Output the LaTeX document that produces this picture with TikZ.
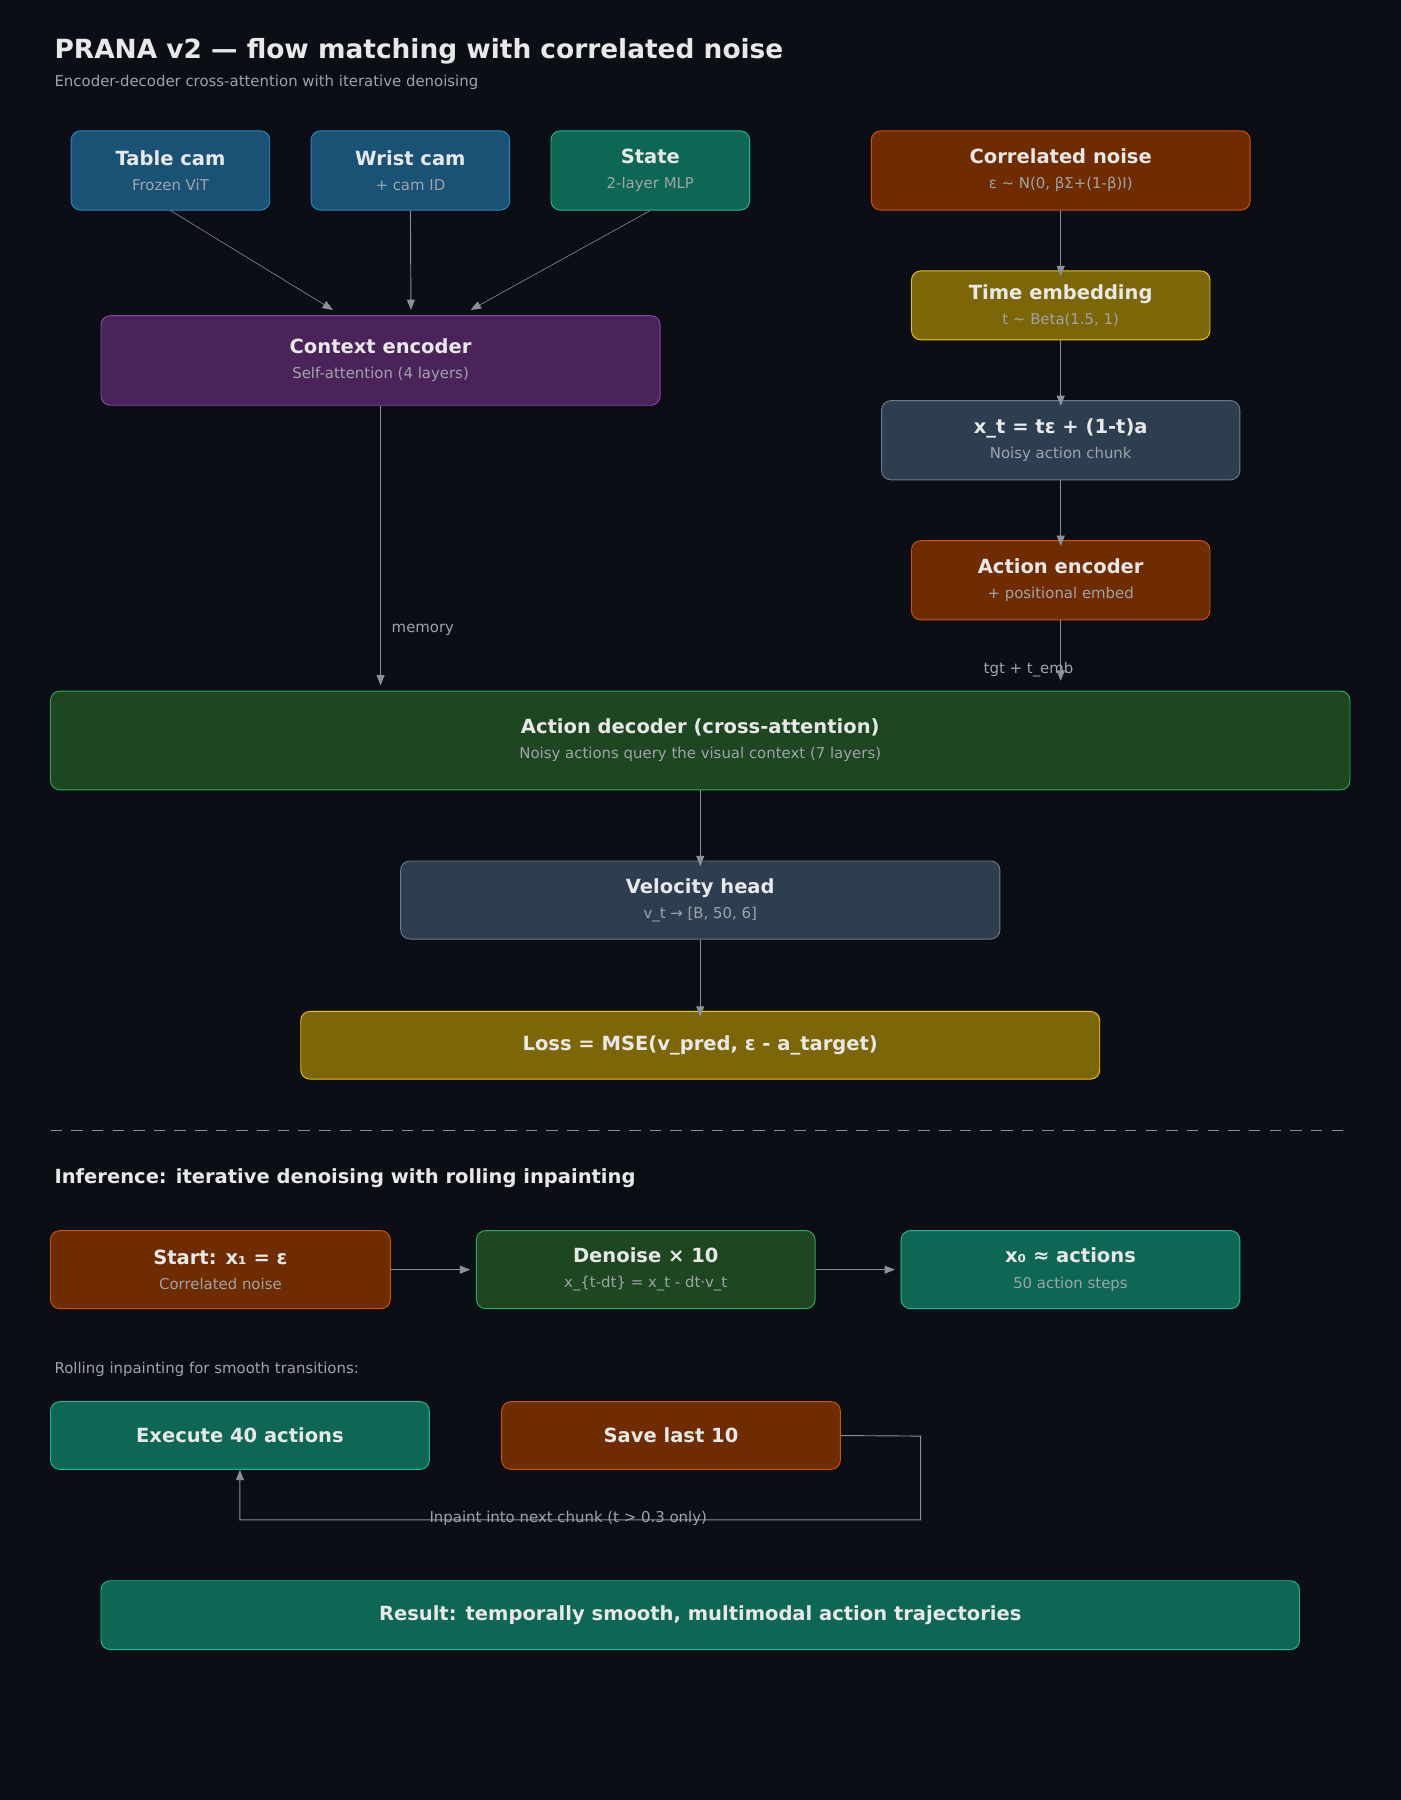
\documentclass[tikz,border=0pt]{standalone}
\usepackage{fontspec}
\setmainfont{DejaVu Sans}
\usetikzlibrary{arrows.meta,positioning}
\definecolor{bg}{HTML}{0B0E14}
\definecolor{txt}{HTML}{E8E8E8}
\definecolor{subc}{HTML}{A0A4AA}
\definecolor{wire}{HTML}{8A9199}
\newcommand{\subt}[1]{{\fontsize{13}{16}\selectfont\mdseries\color{subc}#1}}
\tikzset{
  box/.style={rectangle, rounded corners=8pt, line width=0.8pt, text=txt, align=center,
    font=\fontsize{17}{22}\selectfont\bfseries, inner sep=0pt},
  bluebox/.style={box, fill=HTML1A5276, draw=HTML2E86C1},
  tealbox/.style={box, fill=HTML0E6655, draw=HTML1ABC9C},
  orangebox/.style={box, fill=HTML6E2C00, draw=HTMLD35400},
  purplebox/.style={box, fill=HTML4A235A, draw=HTML8E44AD},
  yellowbox/.style={box, fill=HTML7D6608, draw=HTMLF1C40F},
  slatebox/.style={box, fill=HTML2C3E50, draw=HTML6C7A89},
  greenbox/.style={box, fill=HTML1E4620, draw=HTML27AE60},
  arrow/.style={draw=wire, line width=0.8pt, -{Triangle[length=9pt,width=7pt]}},
  lbl/.style={text=subc, font=\fontsize{13}{16}\selectfont},
}
\definecolor{HTML1A5276}{HTML}{1A5276}\definecolor{HTML2E86C1}{HTML}{2E86C1}
\definecolor{HTML0E6655}{HTML}{0E6655}\definecolor{HTML1ABC9C}{HTML}{1ABC9C}
\definecolor{HTML6E2C00}{HTML}{6E2C00}\definecolor{HTMLD35400}{HTML}{D35400}
\definecolor{HTML4A235A}{HTML}{4A235A}\definecolor{HTML8E44AD}{HTML}{8E44AD}
\definecolor{HTML7D6608}{HTML}{7D6608}\definecolor{HTMLF1C40F}{HTML}{F1C40F}
\definecolor{HTML2C3E50}{HTML}{2C3E50}\definecolor{HTML6C7A89}{HTML}{6C7A89}
\definecolor{HTML1E4620}{HTML}{1E4620}\definecolor{HTML27AE60}{HTML}{27AE60}
\begin{document}
\begin{tikzpicture}[x=1pt,y=-1pt]
  \fill[bg] (0,0) rectangle (1220,1568);
  \useasboundingbox (0,0) rectangle (1220,1568);
  % title
  \node[anchor=west, text=txt, font=\fontsize{23}{28}\selectfont\bfseries] (title) at (44,45) {PRANA v2 — flow matching with correlated noise};
  \node[anchor=west, lbl] (subtitle) at (44,72) {Encoder-decoder cross-attention with iterative denoising};
  % inputs
  \node (tablecam) [bluebox, minimum width=173, minimum height=69] at (148.5,148.5) {Table cam\\\subt{Frozen ViT}};
  \node (wristcam) [bluebox, minimum width=173, minimum height=69] at (357.5,148.5) {Wrist cam\\\subt{+ cam ID}};
  \node (state) [tealbox, minimum width=173, minimum height=69] at (566.5,148.5) {State\\\subt{2-layer MLP}};
  \node (noise) [orangebox, minimum width=330, minimum height=69] at (924,148.5) {Correlated noise\\\subt{ε \textasciitilde{} N(0, βΣ+(1-β)I)}};
  \node (context) [purplebox, minimum width=487, minimum height=78] at (331.5,314) {Context encoder\\\subt{Self-attention (4 layers)}};
  \node (timeemb) [yellowbox, minimum width=260, minimum height=60] at (924,266) {Time embedding\\\subt{t \textasciitilde{} Beta(1.5, 1)}};
  \node (xt) [slatebox, minimum width=312, minimum height=69] at (924,383.5) {x\_t = tε + (1-t)a\\\subt{Noisy action chunk}};
  \node (actenc) [orangebox, minimum width=260, minimum height=69] at (924,505.5) {Action encoder\\\subt{+ positional embed}};
  \node (decoder) [greenbox, minimum width=1132, minimum height=86] at (610,645) {Action decoder (cross-attention)\\\subt{Noisy actions query the visual context (7 layers)}};
  \node (velocity) [slatebox, minimum width=522, minimum height=68] at (610,784) {Velocity head\\\subt{v\_t → [B, 50, 6]}};
  \node (loss) [yellowbox, minimum width=696, minimum height=59] at (610,910.5) {Loss = MSE(v\_pred, ε - a\_target)};
  % input arrows
  \coordinate (ctxa) at (290,270);
  \coordinate (ctxb) at (358,270);
  \coordinate (ctxc) at (410,270);
  \draw[arrow, line width=0.5pt] (tablecam.south) -- (ctxa);
  \draw[arrow] (wristcam.south) -- (ctxb);
  \draw[arrow, line width=0.5pt] (state.south) -- (ctxc);
  \draw[arrow] (noise.south) -- ([yshift=-5]timeemb.north);
  \draw[arrow] (timeemb.south) -- ([yshift=-5]xt.north);
  \draw[arrow] (xt.south) -- ([yshift=-5]actenc.north);
  \draw[arrow] (context.south) -- node[lbl, anchor=west, pos=0.8, xshift=6] {memory} (context.south |- 0,597);
  \draw[arrow] (actenc.south) -- (actenc.south |- 0,593);
  \node[lbl] (tgtlbl) at (896,583) {tgt + t\_emb};
  \draw[arrow] (decoder.south) -- ([yshift=-5]velocity.north);
  \draw[arrow] (velocity.south) -- ([yshift=-5]loss.north);
  % separator
  \draw[wire, line width=0.8pt, dash pattern=on 10pt off 8pt] (44,985) -- (1170,985);
  \node[anchor=west, text=txt, font=\fontsize{17}{22}\selectfont\bfseries] (infhead) at (44,1026) {Inference: iterative denoising with rolling inpainting};
  % inference
  \node (start) [orangebox, minimum width=296, minimum height=68] at (192,1106) {Start: x₁ = ε\\\subt{Correlated noise}};
  \node (denoise) [greenbox, minimum width=295, minimum height=68] at (562.5,1106) {Denoise × 10\\\subt{x\_\{t-dt\} = x\_t - dt·v\_t}};
  \node (xzero) [tealbox, minimum width=295, minimum height=68] at (932.5,1106) {x₀ ≈ actions\\\subt{50 action steps}};
  \draw[arrow] (start.east) -- ([xshift=-5]denoise.west);
  \draw[arrow] (denoise.east) -- ([xshift=-5]xzero.west);
  \node[anchor=west, lbl] (rolling) at (44,1193) {Rolling inpainting for smooth transitions:};
  \node (execute) [tealbox, minimum width=330, minimum height=59] at (209,1250.5) {Execute 40 actions};
  \node (save) [orangebox, minimum width=295, minimum height=59] at (584.5,1250.5) {Save last 10};
  \coordinate (loopa) at (802,1251);
  \coordinate (loopb) at (802,1324);
  \draw[arrow] (save.east) -- (loopa) -- (loopb) -- (execute.south |- loopb) -- (execute.south);
  \node[lbl] (inpaint) at (495,1323) {Inpaint into next chunk (t > 0.3 only)};
  \node (result) [tealbox, minimum width=1044, minimum height=60] at (610,1407) {Result: temporally smooth, multimodal action trajectories};
\end{tikzpicture}
\end{document}
